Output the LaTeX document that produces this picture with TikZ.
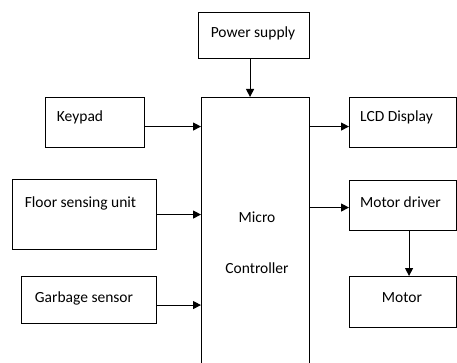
\documentclass[tikz,border=0pt]{standalone}
\usepackage{fontspec}
\setmainfont{Carlito}
\usetikzlibrary{arrows.meta}

\tikzset{
    block/.style={draw=black, line width=1.1pt, anchor=north west, inner sep=0pt},
    lbl/.style={font=\fontsize{15.5}{18}\selectfont, inner sep=0pt},
    arr/.style={-{Triangle[length=8pt, width=8pt]}, line width=1.1pt, black}
}

\begin{document}
\begin{tikzpicture}[x=1pt, y=1pt]

    \useasboundingbox (0,0) rectangle (457,-363);
    \clip (0,0) rectangle (457,-363);

    % Power supply on top
    \node[block, minimum width=111pt, minimum height=46pt] (power) at (198,-12) {};
    \node[lbl] (powertxt) at (253,-33) {Power supply};

    % Inputs on the left
    \node[block, minimum width=99pt, minimum height=50pt] (keypad) at (45,-97) {};
    \node[lbl] (keypadtxt) at (80,-117) {Keypad};
    \node[block, minimum width=144pt, minimum height=70pt] (floor) at (12,-179) {};
    \node[lbl] (floortxt) at (80.5,-203) {Floor sensing unit};
    \node[block, minimum width=135pt, minimum height=47pt] (garbage) at (21,-276) {};
    \node[lbl] (garbagetxt) at (84,-298) {Garbage sensor};

    % Micro controller (runs off the bottom edge)
    \node[block, minimum width=108pt, minimum height=280pt] (mcu) at (201,-97) {};
    \node[lbl] (microtxt) at (257,-217) {Micro};
    \node[lbl] (controllertxt) at (257,-268) {Controller};

    % Outputs on the right
    \node[block, minimum width=107pt, minimum height=50pt] (lcd) at (349,-97) {};
    \node[lbl] (lcdtxt) at (396.5,-117) {LCD Display};
    \node[block, minimum width=107pt, minimum height=50pt] (driver) at (349,-180) {};
    \node[lbl] (drivertxt) at (400.5,-202) {Motor driver};
    \node[block, minimum width=107pt, minimum height=51pt] (motor) at (349,-276) {};
    \node[lbl] (motortxt) at (402,-298) {Motor};

    % Connections
    \draw[arr] ([xshift=-4pt]power.south) -- ([xshift=-4pt]power.south |- mcu.north);
    \draw[arr] ([yshift=-4pt]keypad.east) -- ([yshift=-4pt]keypad.east -| mcu.west);
    \draw[arr] (floor.east) -- (floor.east -| mcu.west);
    \draw[arr] ([yshift=-5pt]garbage.east) -- ([yshift=-5pt]garbage.east -| mcu.west);
    \draw[arr] ([yshift=-4pt]lcd.west -| mcu.east) -- ([yshift=-4pt]lcd.west);
    \draw[arr] ([yshift=-2pt]driver.west -| mcu.east) -- ([yshift=-2pt]driver.west);
    \draw[arr] ([xshift=6pt]driver.south) -- ([xshift=6pt]motor.north);

\end{tikzpicture}
\end{document}
